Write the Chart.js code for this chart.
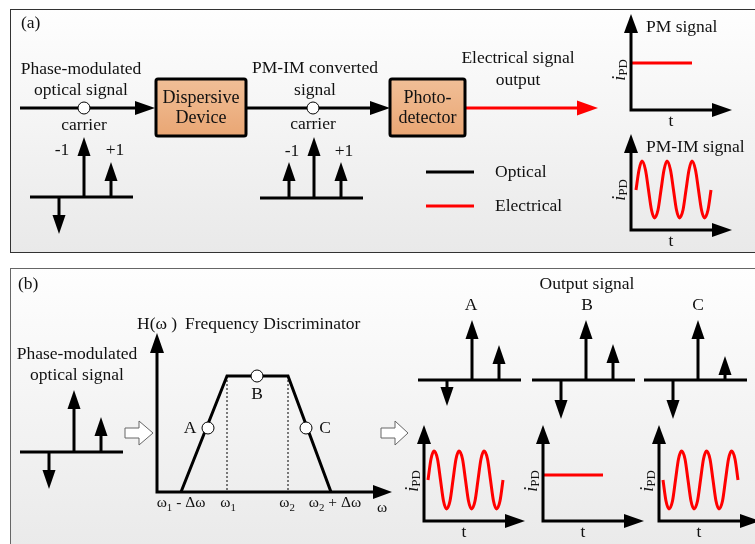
<!DOCTYPE html>
<html>
<head>
<meta charset="utf-8">
<script src="https://cdn.jsdelivr.net/npm/chart.js@4.4.1/dist/chart.umd.min.js"></script>
<style>
  html, body { margin: 0; padding: 0; background: #fff; }
  canvas { display: block; }
</style>
</head>
<body>
<canvas id="diagram" width="755" height="544"></canvas>
<script>
// ---- values ----
// spectral line heights above the baseline: [-1 sideband, carrier, +1 sideband]
const pmInput = [-37, 60, 35];
const pmImConverted = [36, 61, 36];
const discInput = [-37, 62, 35];
const outA = [-26, 60, 35];
const outB = [-39, 60, 36];
const outC = [-39, 60, 24];
const sidebandLabels = ['-1', '+1'];

// photocurrent traces as [t, iPD] in plot units (eighth-period points, smoothed by the chart)
const pmFlat = [[0, 47], [61, 47]];
const pmImWave = [[5,40],[8,60],[11,69],[14.5,60],[17.5,40],[20.5,20],[23.5,12],[27,20],
  [30,40],[33,60],[36,69],[39.5,60],[42.5,40],[45.5,20],[48.5,12],[52,20],
  [55,40],[58,60],[61,69],[64.5,60],[67.5,40],[70.5,20],[73.5,12],[77,20],[80,40]];
const outAWave = [[4,41],[7,62],[10,70],[13.5,62],[16.5,41],[19.5,20],[22.5,12],[26,20],
  [29,41],[32,62],[35,70],[38.5,62],[41.5,41],[44.5,20],[47.5,12],[51,20],
  [54,41],[57,62],[60,70],[63.5,62],[66.5,41],[69.5,20],[72.5,12],[76,20],[79,41]];
const outBFlat = [[0,46],[60,46]];
const outCWave = [[4,41],[7,20],[10,12],[13.5,20],[16.5,41],[19.5,62],[22.5,70],[26,62],
  [29,41],[32,20],[35,12],[38.5,20],[41.5,41],[44.5,62],[47.5,70],[51,62],
  [54,41],[57,20],[60,12],[63.5,20],[66.5,41],[69.5,62],[72.5,70],[76,62],[79,41]];

// frequency discriminator H(w)
const omegaTicks = ['ω_1 - Δω', 'ω_1', 'ω_2', 'ω_2 + Δω'];
const omegaAt = [24, 70, 131, 174];
const hResponse = [[24, 0], [70, 116], [131, 116], [174, 0]];
const workPoints = [['A', 51, 64], ['B', 100, 116], ['C', 149, 64]];

// ---- layout ----
const W = 755, H = 544;
const SERIF = '"Liberation Serif", "Times New Roman", serif';
const FONT = 17.5;
const spectrumPlaces = [[84, 197, pmInput], [314, 198, pmImConverted], [74, 452, discInput],
                        [472, 380, outA], [586, 380, outB], [698, 380, outC]];
const sideOffsets = [-25, 0, 27];
const plots = [
  { o: [631, 110], trace: pmFlat, title: 'PM signal' },
  { o: [631, 230], trace: pmImWave, title: 'PM-IM signal' },
  { o: [424, 521], trace: outAWave },
  { o: [543, 521], trace: outBFlat },
  { o: [659, 521], trace: outCWave },
];
const disc = [157, 492];
const boxes = [[156, 79, 246, 136, 'Dispersive', 'Device'], [390, 79, 465, 136, 'Photo-', 'detector']];
const hollowArrows = [[125, 139, 153, 433], [381, 395, 408, 433]];

const texts = [
  ['(a)', 21, 23, 'left'], ['(b)', 18, 284, 'left'],
  ['Phase-modulated', 81, 69], ['optical signal', 81, 90], ['carrier', 84, 125],
  ['PM-IM converted', 315, 68], ['signal', 315, 90], ['carrier', 313, 124],
  ['Electrical signal', 518, 58], ['output', 518, 80],
  ['Optical', 495, 172, 'left'], ['Electrical', 495, 206, 'left'],
  ['Phase-modulated', 77, 354], ['optical signal', 77, 375],
  ['H(ω )', 137, 324, 'left'], ['Frequency Discriminator', 185, 324, 'left'],
  ['A', 190, 428], ['B', 257, 394], ['C', 325, 428],
  ['Output signal', 587, 284], ['A', 471, 305], ['B', 587, 305], ['C', 698, 305],
];
const sideLabelPos = [[[62, 150], [115, 150]], [[292, 151], [344, 151]]];
const omegaLabelX = [181, 228, 287, 335];

// ---- build datasets ----
const datasets = [];
const heads = [];

function line(pts, color, width, extra) {
  datasets.push(Object.assign({
    data: pts.map(([x, y]) => ({ x, y })), showLine: true, borderColor: color,
    borderWidth: width, pointRadius: 0, fill: false, tension: 0, order: 1,
    borderCapStyle: 'butt', borderJoinStyle: 'miter'
  }, extra || {}));
}

function arrow(from, tip, color, len, half) {
  const dx = tip[0] - from[0], dy = tip[1] - from[1];
  const d = Math.hypot(dx, dy), ux = dx / d, uy = dy / d;
  line([from, [tip[0] - ux * len, tip[1] - uy * len]], color, 3);
  heads.push({ tip, ux, uy, len, half, color });
}

// signal flow in panel (a)
arrow([20, 108], [155, 108], '#000', 20, 7);
arrow([246, 108], [390, 108], '#000', 20, 7);
arrow([465, 108], [598, 108], '#ff0000', 21, 7.5);

// legend
line([[426, 172], [474, 172]], '#000', 3);
line([[426, 206], [474, 206]], '#ff0000', 3);

// spectra
spectrumPlaces.forEach(([cx, base, heights]) => {
  line([[cx - 54, base], [cx + 49, base]], '#000', 3);
  heights.forEach((h, i) => {
    const x = cx + sideOffsets[i];
    arrow([x, base], [x, base - h], '#000', 19, 6.5);
  });
});

// photocurrent plots
plots.forEach(p => {
  const [ox, oy] = p.o;
  line([[ox, oy - 77], [ox, oy], [ox + 81, oy]], '#000', 3);
  heads.push({ tip: [ox, oy - 96], ux: 0, uy: -1, len: 19, half: 7, color: '#000' });
  heads.push({ tip: [ox + 101, oy], ux: 1, uy: 0, len: 20, half: 7, color: '#000' });
  line(p.trace.map(([t, v]) => [ox + t, oy - v]), '#ff0000', 3,
       p.trace.length > 2 ? { cubicInterpolationMode: 'monotone', borderJoinStyle: 'round' } : {});
});

// frequency discriminator
const [dx0, dy0] = disc;
line([[dx0, dy0 - 140], [dx0, dy0], [dx0 + 216, dy0]], '#000', 3);
heads.push({ tip: [dx0, dy0 - 159], ux: 0, uy: -1, len: 20, half: 7, color: '#000' });
heads.push({ tip: [dx0 + 235, dy0], ux: 1, uy: 0, len: 19, half: 7, color: '#000' });
line(hResponse.map(([w, h]) => [dx0 + w, dy0 - h]), '#000', 3);
[1, 2].forEach(i => line([[dx0 + omegaAt[i], dy0 - hResponse[i][1]], [dx0 + omegaAt[i], dy0]], '#000', 1,
  { borderDash: [2, 2] }));

// operating points (circles on top)
datasets.push({
  data: [[84, 108], [313, 108]].concat(workPoints.map(([, w, h]) => [dx0 + w, dy0 - h]))
    .map(([x, y]) => ({ x, y })),
  showLine: false, pointRadius: 6, pointBackgroundColor: '#fff', pointBorderColor: '#000',
  pointBorderWidth: 1, order: 0
});

// ---- drawing helpers ----
function richParts(str, size) {
  const parts = [];
  const re = /_(\w)/g;
  let last = 0, m;
  while ((m = re.exec(str))) {
    if (m.index > last) parts.push({ t: str.slice(last, m.index), size, dy: 0 });
    parts.push({ t: m[1], size: size * 0.7, dy: size * 0.3 });
    last = re.lastIndex;
  }
  if (last < str.length) parts.push({ t: str.slice(last), size, dy: 0 });
  return parts;
}

function drawParts(ctx, parts, x, y, align) {
  ctx.textBaseline = 'middle';
  ctx.textAlign = 'left';
  let total = 0;
  parts.forEach(p => {
    ctx.font = (p.italic ? 'italic ' : '') + p.size + 'px ' + SERIF;
    p.w = ctx.measureText(p.t).width;
    total += p.w;
  });
  let cx = align === 'left' ? x : x - total / 2;
  parts.forEach(p => {
    ctx.font = (p.italic ? 'italic ' : '') + p.size + 'px ' + SERIF;
    ctx.fillText(p.t, cx, y + p.dy);
    cx += p.w;
  });
}

const diagramPlugin = {
  id: 'diagram',
  beforeDatasetsDraw(chart) {
    const ctx = chart.ctx, sx = chart.scales.x, sy = chart.scales.y;
    const px = v => sx.getPixelForValue(v), py = v => sy.getPixelForValue(v);
    ctx.save();
    ctx.fillStyle = '#fff';
    ctx.fillRect(0, 0, W, H);
    [[9, 252, '#333'], [268, 560, '#666']].forEach(([top, bot, border]) => {
      const g = ctx.createLinearGradient(0, py(top), 0, py(bot));
      g.addColorStop(0, '#fefefe');
      g.addColorStop(1, '#e9e9e9');
      ctx.fillStyle = g;
      ctx.fillRect(px(10), py(top), px(770) - px(10), py(bot) - py(top));
      ctx.strokeStyle = border;
      ctx.lineWidth = 1;
      ctx.strokeRect(px(10) + 0.5, py(top) + 0.5, px(770) - px(10), py(bot) - py(top));
    });
    ctx.restore();
  },
  afterDatasetsDraw(chart) {
    const ctx = chart.ctx, sx = chart.scales.x, sy = chart.scales.y;
    const px = v => sx.getPixelForValue(v), py = v => sy.getPixelForValue(v);
    ctx.save();

    // arrowheads
    heads.forEach(h => {
      const tx = px(h.tip[0]), ty = py(h.tip[1]);
      const bx = tx - h.ux * h.len, by = ty - h.uy * h.len;
      ctx.beginPath();
      ctx.moveTo(tx, ty);
      ctx.lineTo(bx - h.uy * h.half, by + h.ux * h.half);
      ctx.lineTo(bx + h.uy * h.half, by - h.ux * h.half);
      ctx.closePath();
      ctx.fillStyle = h.color;
      ctx.fill();
    });

    // device boxes
    boxes.forEach(([x0, y0, x1, y1, t1, t2]) => {
      const g = ctx.createLinearGradient(0, py(y0), 0, py(y1));
      g.addColorStop(0, '#f1bf97');
      g.addColorStop(1, '#e9a674');
      ctx.fillStyle = g;
      ctx.beginPath();
      ctx.roundRect(px(x0), py(y0), px(x1) - px(x0), py(y1) - py(y0), 2);
      ctx.fill();
      ctx.lineWidth = 3;
      ctx.strokeStyle = '#000';
      ctx.stroke();
      ctx.fillStyle = '#111';
      const cx = (px(x0) + px(x1)) / 2;
      drawParts(ctx, richParts(t1, 18), cx, py(98));
      drawParts(ctx, richParts(t2, 18), cx, py(118));
    });

    // hollow arrows
    hollowArrows.forEach(([x0, xh, xt, cy]) => {
      ctx.beginPath();
      ctx.moveTo(px(x0), py(cy - 5));
      ctx.lineTo(px(xh), py(cy - 5));
      ctx.lineTo(px(xh), py(cy - 12));
      ctx.lineTo(px(xt), py(cy));
      ctx.lineTo(px(xh), py(cy + 12));
      ctx.lineTo(px(xh), py(cy + 5));
      ctx.lineTo(px(x0), py(cy + 5));
      ctx.closePath();
      ctx.fillStyle = '#fff';
      ctx.fill();
      ctx.lineWidth = 1;
      ctx.strokeStyle = '#666';
      ctx.stroke();
    });

    // text
    ctx.fillStyle = '#111';
    texts.forEach(([t, x, y, align]) => drawParts(ctx, richParts(t, FONT), px(x), py(y), align));
    sideLabelPos.forEach(pair => pair.forEach(([x, y], i) =>
      drawParts(ctx, richParts(sidebandLabels[i], FONT), px(x), py(y))));
    omegaTicks.forEach((t, i) => drawParts(ctx, richParts(t, 15.5), px(omegaLabelX[i]), py(dy0 + 11)));
    drawParts(ctx, richParts('ω', 15.5), px(382), py(508));

    plots.forEach(p => {
      const [ox, oy] = p.o;
      if (p.title) drawParts(ctx, richParts(p.title, FONT), px(ox + 15), py(oy - 83), 'left');
      drawParts(ctx, richParts('t', FONT), px(ox + 40), py(oy + 11));
      ctx.save();
      ctx.translate(px(ox - 11), py(oy - 40));
      ctx.rotate(-Math.PI / 2);
      drawParts(ctx, [{ t: 'i', size: 18, italic: true, dy: 0 }, { t: 'PD', size: 13, dy: 4 }], 0, 0);
      ctx.restore();
    });

    ctx.restore();
  }
};

new Chart(document.getElementById('diagram').getContext('2d'), {
  type: 'scatter',
  data: { datasets },
  options: {
    responsive: false,
    animation: false,
    events: [],
    layout: { padding: 0, autoPadding: false },
    plugins: { legend: { display: false }, tooltip: { enabled: false } },
    scales: {
      x: { type: 'linear', min: 0, max: W, display: false },
      y: { type: 'linear', min: 0, max: H, reverse: true, display: false }
    }
  },
  plugins: [diagramPlugin]
});
</script>
</body>
</html>
